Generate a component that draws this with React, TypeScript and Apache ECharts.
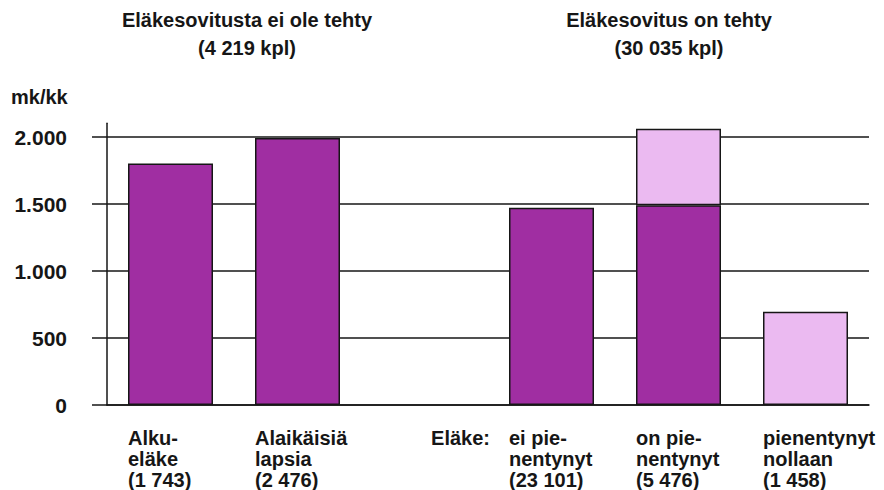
import React, { useEffect, useRef } from "react";
import * as echarts from "echarts";

const categories = [
  "Alku-\neläke\n(1 743)",
  "Alaikäisiä\nlapsia\n(2 476)",
  "Eläke:",
  "ei pie-\nnentynyt\n(23 101)",
  "on pie-\nnentynyt\n(5 476)",
  "pienentynyt\nnollaan\n(1 458)",
];
const baseValues = [1800, 1990, null, 1470, 1490, null];
const extraValues = [null, null, null, null, 570, 695];
const yTicks = { min: 0, max: 2000, interval: 500 };
const axisExtentMax = 2100;
const titles = [
  { text: "Eläkesovitusta ei ole tehty\n(4 219 kpl)", x: 247 },
  { text: "Eläkesovitus on tehty\n(30 035 kpl)", x: 669 },
];
const unitLabel = "mk/kk";

const FONT = "'Liberation Sans', Arial, sans-serif";
const INK = "#161616";
const DARK = "#a02ea2";
const LIGHT = "#ebbaf1";

export default function App() {
  const ref = useRef<HTMLDivElement>(null);
  useEffect(() => {
    if (!ref.current) return;
    const chart = echarts.init(ref.current, undefined, { renderer: "svg" });
    const fmt = (v: number) =>
      String(v).replace(/\B(?=(\d{3})+(?!\d))/g, ".");
    chart.setOption({
      animation: false,
      backgroundColor: "#ffffff",
      textStyle: { fontFamily: FONT },
      grid: [
        { left: 107, right: 15, top: 137, bottom: 85 },
        { left: 107, right: 15, top: 123.3, bottom: 85 },
      ],
      xAxis: [
        {
          type: "category",
          gridIndex: 0,
          data: categories,
          axisLine: { show: true, lineStyle: { color: INK, width: 1.5 } },
          axisTick: { show: false },
          axisLabel: {
            interval: 0,
            margin: 22,
            formatter: (val: string, idx: number) =>
              val
                .split("\n")
                .map((l) => (idx === 2 ? `{e|${l}}` : `{a|${l}}`))
                .join("\n"),
            rich: {
              a: {
                width: 85,
                align: "left",
                fontSize: 20,
                lineHeight: 21,
                fontWeight: "bold",
                fontFamily: FONT,
                color: INK,
              },
              e: {
                width: 131,
                align: "right",
                fontSize: 20,
                lineHeight: 21,
                fontWeight: "bold",
                fontFamily: FONT,
                color: INK,
              },
            },
          },
        },
        {
          type: "category",
          gridIndex: 1,
          data: categories,
          show: false,
        },
      ],
      yAxis: [
        {
          type: "value",
          gridIndex: 0,
          min: yTicks.min,
          max: yTicks.max,
          interval: yTicks.interval,
          axisLine: { show: false },
          axisTick: {
            show: true,
            length: 15,
            lineStyle: { color: INK, width: 1.5 },
          },
          splitLine: { show: true, lineStyle: { color: INK, width: 1.5 } },
          axisLabel: {
            margin: 40,
            fontSize: 21,
            fontWeight: "bold",
            fontFamily: FONT,
            color: INK,
            formatter: fmt,
          },
        },
        {
          type: "value",
          gridIndex: 1,
          min: 0,
          max: axisExtentMax,
          axisLine: { show: true, lineStyle: { color: INK, width: 1.5 } },
          axisTick: { show: false },
          splitLine: { show: false },
          axisLabel: { show: false },
        },
      ],
      series: [
        {
          type: "bar",
          stack: "total",
          xAxisIndex: 1,
          yAxisIndex: 1,
          data: baseValues,
          barWidth: 85,
          itemStyle: { color: DARK, borderColor: INK, borderWidth: 1.5 },
        },
        {
          type: "bar",
          stack: "total",
          xAxisIndex: 1,
          yAxisIndex: 1,
          data: extraValues,
          barWidth: 85,
          itemStyle: { color: LIGHT, borderColor: INK, borderWidth: 1.5 },
        },
      ],
      graphic: [
        ...titles.map((t) => ({
          type: "text",
          x: t.x,
          y: 6,
          style: {
            text: t.text,
            fontSize: 20,
            fontWeight: "bold",
            fontFamily: FONT,
            lineHeight: 28,
            fill: INK,
            textAlign: "center",
            textVerticalAlign: "top",
          },
        })),
        {
          type: "text",
          x: 11,
          y: 97,
          style: {
            text: unitLabel,
            fontSize: 20,
            fontWeight: "bold",
            fontFamily: FONT,
            fill: INK,
            textAlign: "left",
            textVerticalAlign: "middle",
          },
        },
      ],
    });
    return () => chart.dispose();
  }, []);
  return (
    <div
      ref={ref}
      style={{ position: "absolute", left: 0, top: 0, width: 884, height: 490 }}
    />
  );
}
